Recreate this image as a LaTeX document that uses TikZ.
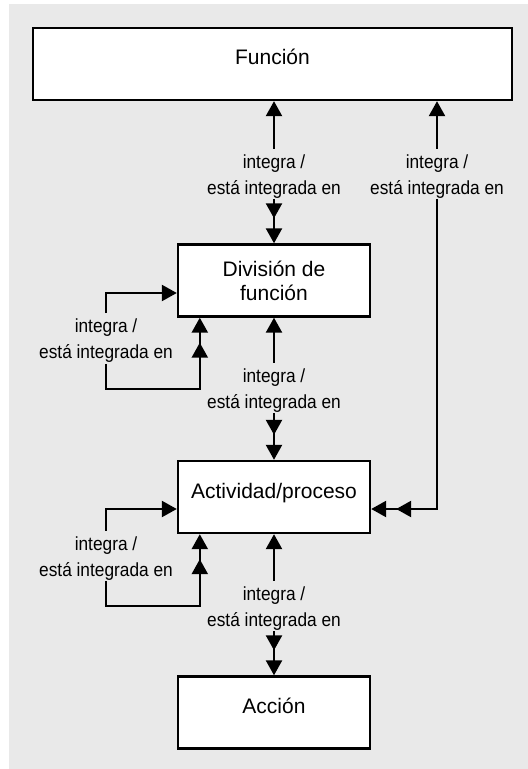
\documentclass[tikz,border=0pt]{standalone}
\usepackage{fontspec}
\setmainfont{Liberation Sans}
\newfontfamily\labfont[FakeStretch=0.91]{Liberation Sans}
\usetikzlibrary{arrows.meta,decorations.markings}

\definecolor{bggray}{HTML}{E9E9E9}

\tikzset{
  tri/.tip={Triangle[length=7.5pt,width=8pt]},
  box/.style={draw, line width=1.2pt, fill=white, minimum height=36pt, inner sep=0pt,
    align=center, font=\fontsize{10.5}{12}\selectfont},
  onebox/.style={box, text height=7pt, text depth=6pt},
  lab/.style={align=center, inner sep=0.5pt, font=\labfont\fontsize{9.5}{13}\selectfont},
  con/.style={line width=1.2pt, -tri},
  dbl/.style={con, postaction={decorate, decoration={markings,
    mark=at position -12.5pt with {\arrow{tri}}}}}
}

\begin{document}
\begin{tikzpicture}[x=0.5pt, y=-0.5pt]
\def\intlabel{\strut integra /\\está integrada en}

% Background
\useasboundingbox (0,0) rectangle (528,769);
\fill[bggray] (9,4) rectangle (528,769);

% Boxes
\node[onebox, minimum width=239.5pt] (fun) at (272.5,64) {Función};
\node[box, minimum width=96pt] (div) at (274,280.5) {División de\\función};
\node[onebox, minimum width=96pt] (act) at (274,497) {Actividad/proceso};
\node[onebox, minimum width=96pt] (acc) at (274,712.5) {Acción};

% Labels
\node[lab] (i1) at (274,174) {\intlabel};
\node[lab] (i2) at (437,174) {\intlabel};
\node[lab] (i3) at (106,338.5) {\intlabel};
\node[lab] (i4) at (274,388) {\intlabel};
\node[lab] (i5) at (106,556) {\intlabel};
\node[lab] (i6) at (274,606) {\intlabel};

% Funcion <-> division
\draw[con] (i1) -- (i1 |- fun.south);
\draw[dbl] (i1) -- (div);

% Funcion <-> actividad (right side)
\draw[con] (i2) -- (i2 |- fun.south);
\draw[dbl] (i2) |- ([yshift=-6pt]act.east);

% Division loop
\draw[con] (i3) |- ([yshift=-6.25pt]div.west);
\draw[dbl] (i3) |- ([xshift=11.5pt,yshift=-35.5pt]div.south west)
  -- ([xshift=11.5pt]div.south west);

% Division <-> actividad
\draw[con] (i4) -- (div);
\draw[dbl] (i4) -- (act);

% Actividad loop
\draw[con] (i5) |- ([yshift=-6pt]act.west);
\draw[dbl] (i5) |- ([xshift=11.5pt,yshift=-36pt]act.south west)
  -- ([xshift=11.5pt]act.south west);

% Actividad <-> accion
\draw[con] (i6) -- (act);
\draw[dbl] (i6) -- (acc);
\end{tikzpicture}
\end{document}
